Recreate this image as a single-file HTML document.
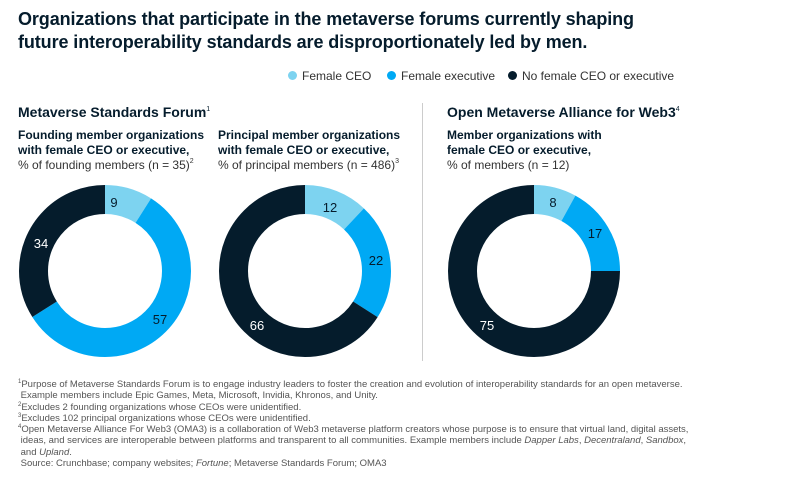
<!DOCTYPE html>
<html><head><meta charset="utf-8"><style>
body{margin:0;width:800px;height:478px;background:#fff;font-family:"Liberation Sans",Arial,sans-serif;color:#051c2c;position:relative;overflow:hidden}
.a{position:absolute;white-space:nowrap}
.t{font-size:18px;font-weight:bold;line-height:23px;left:18px;top:8px;letter-spacing:-0.1px}
.lg{font-size:12px;color:#333;top:69px}
.dot{display:inline-block;width:9px;height:9px;border-radius:50%;margin-right:5px;vertical-align:0px}
.h{font-size:14px;font-weight:bold;top:104px}
.s{font-size:12px;line-height:15px;top:128px}
.s b{font-weight:bold}
.s span{color:#333}
sup{font-size:7px;vertical-align:6px;font-weight:normal;line-height:0}
.fn{left:18px;top:379px;font-size:9.5px;line-height:11.3px;color:#555}
.fn sup{font-size:6px;vertical-align:4px}
</style></head><body>
<div class="a t">Organizations that participate in the metaverse forums currently shaping<br>future interoperability standards are disproportionately led by men.</div>
<div class="a lg" style="left:288px"><span class="dot" style="background:#7dd3f0"></span>Female CEO</div>
<div class="a lg" style="left:387px"><span class="dot" style="background:#00a9f4"></span>Female executive</div>
<div class="a lg" style="left:508px"><span class="dot" style="background:#051c2c"></span>No female CEO or executive</div>
<div class="a h" style="left:18px">Metaverse Standards Forum<sup>1</sup></div>
<div class="a h" style="left:447px">Open Metaverse Alliance for Web3<sup>4</sup></div>
<div class="a s" style="left:18px"><b>Founding member organizations<br>with female CEO or executive,</b><br><span>% of founding members (n = 35)<sup>2</sup></span></div>
<div class="a s" style="left:218px"><b>Principal member organizations<br>with female CEO or executive,</b><br><span>% of principal members (n = 486)<sup>3</sup></span></div>
<div class="a s" style="left:447px"><b>Member organizations with<br>female CEO or executive,</b><br><span>% of members (n = 12)</span></div>
<div class="a" style="left:422px;top:103px;width:1px;height:258px;background:#ccc"></div>
<svg class="a" style="left:0;top:0" width="800" height="478">
<g fill="none" stroke-width="29" stroke="#fff">
<g transform="translate(105,271) rotate(-90)">
<circle r="71.5" stroke="#7dd3f0" stroke-dasharray="40.4 449.3" stroke-dashoffset="0"/>
<circle r="71.5" stroke="#00a9f4" stroke-dasharray="256.1 449.3" stroke-dashoffset="-40.4"/>
<circle r="71.5" stroke="#051c2c" stroke-dasharray="152.8 449.3" stroke-dashoffset="-296.5"/>
</g>
<g transform="translate(305,271) rotate(-90)">
<circle r="71.5" stroke="#7dd3f0" stroke-dasharray="53.9 449.3" stroke-dashoffset="0"/>
<circle r="71.5" stroke="#00a9f4" stroke-dasharray="98.8 449.3" stroke-dashoffset="-53.9"/>
<circle r="71.5" stroke="#051c2c" stroke-dasharray="296.5 449.3" stroke-dashoffset="-152.7"/>
</g>
<g transform="translate(534,271) rotate(-90)">
<circle r="71.5" stroke="#7dd3f0" stroke-dasharray="35.9 449.3" stroke-dashoffset="0"/>
<circle r="71.5" stroke="#00a9f4" stroke-dasharray="76.4 449.3" stroke-dashoffset="-35.9"/>
<circle r="71.5" stroke="#051c2c" stroke-dasharray="337 449.3" stroke-dashoffset="-112.3"/>
</g>
</g>
<g font-family="Liberation Sans,Arial,sans-serif" font-size="13" text-anchor="middle">
<text x="114" y="207" fill="#051c2c">9</text>
<text x="160" y="324" fill="#051c2c">57</text>
<text x="41" y="248" fill="#fff">34</text>
<text x="330" y="212" fill="#051c2c">12</text>
<text x="376" y="265" fill="#051c2c">22</text>
<text x="257" y="330" fill="#fff">66</text>
<text x="553" y="207" fill="#051c2c">8</text>
<text x="595" y="238" fill="#051c2c">17</text>
<text x="487" y="330" fill="#fff">75</text>
</g>
</svg>
<div class="a fn"><sup>1</sup>Purpose of Metaverse Standards Forum is to engage industry leaders to foster the creation and evolution of interoperability standards for an open metaverse.<br>&nbsp;Example members include Epic Games, Meta, Microsoft, Invidia, Khronos, and Unity.<br><sup>2</sup>Excludes 2 founding organizations whose CEOs were unidentified.<br><sup>3</sup>Excludes 102 principal organizations whose CEOs were unidentified.<br><sup>4</sup>Open Metaverse Alliance For Web3 (OMA3) is a collaboration of Web3 metaverse platform creators whose purpose is to ensure that virtual land, digital assets,<br>&nbsp;ideas, and services are interoperable between platforms and transparent to all communities. Example members include <i>Dapper Labs</i>, <i>Decentraland</i>, <i>Sandbox</i>,<br>&nbsp;and <i>Upland</i>.<br>&nbsp;Source: Crunchbase; company websites; <i>Fortune</i>; Metaverse Standards Forum; OMA3</div>
</body></html>
